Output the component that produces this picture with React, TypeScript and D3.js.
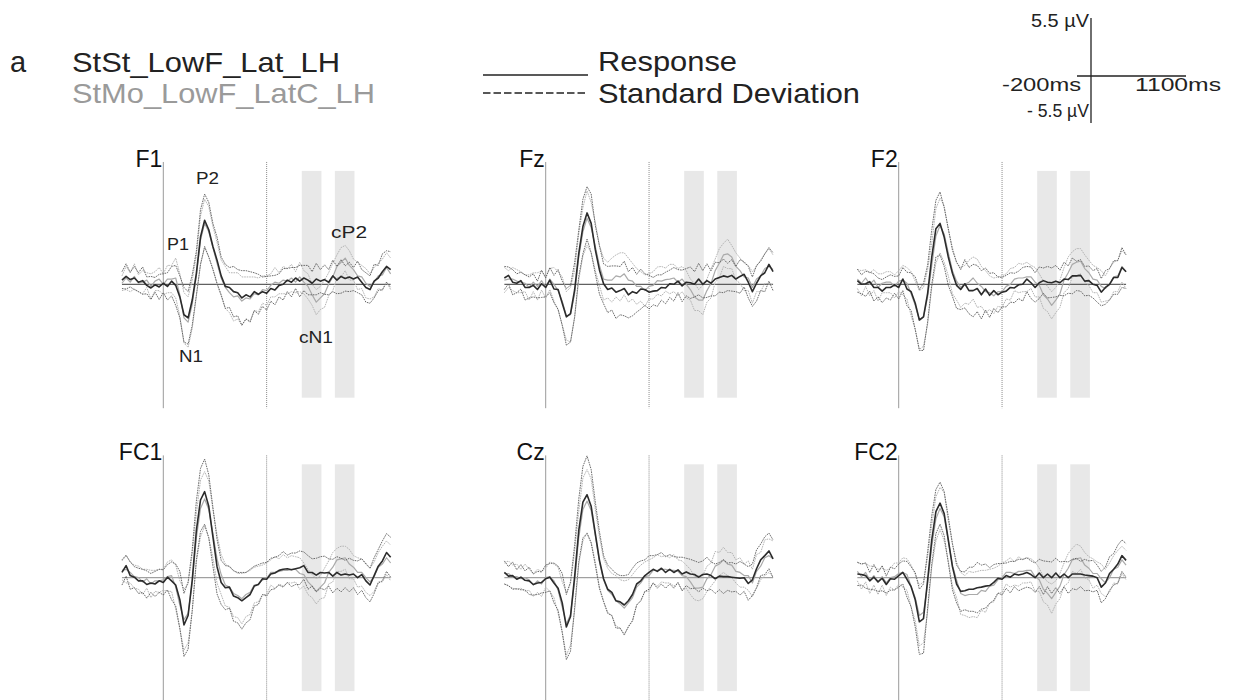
import React from "react";
import * as d3 from "d3";

// ---------- DATA ----------
const TIME_START = -200; // ms
const TIME_END = 1100; // ms
const TIME_STEP = 20; // ms
const times: number[] = d3.range(TIME_START, TIME_END + 1, TIME_STEP);

const changeMarker = 500; // dotted vertical (ms)
const windowCN1 = [670, 765]; // ms
const windowCP2 = [830, 925]; // ms

const conditionA = "StSt_LowF_Lat_LH";
const conditionB = "StMo_LowF_LatC_LH";
const legendLabels = ["Response", "Standard Deviation"];
const scaleLabels = ["5.5 µV", "-200ms", "1100ms", "- 5.5 µV"];
const peakLabels = ["P1", "P2", "N1", "cN1", "cP2"];
const electrodes = ["F1", "Fz", "F2", "FC1", "Cz", "FC2"];

// µV values, -200..1100 ms every 20 ms
const F1_StSt_mean = [0.4,0.75,0.45,0.6,0.2,0.35,-0.1,-0.35,-0.05,-0.25,0.1, -0.2,0.3,-0.1,-1.2, -2.9,-3.2,-1.5, 1.05,4.5,6.1,5.2,3.6, 2.3,0.8,-0.2,-0.3,-0.7, -0.8,-1.3,-1.0,-1.2,-0.7,-0.95,-0.7, -0.85,-0.4,-0.55,-0.1,0.0,0.4,0.2,0.6,0.3,0.6,0.4, 0.1,0.5,0.3,0.45,0.2,0.8,0.4,0.75,0.55,0.7, 0.5,0.7,0.2,-0.3,-0.5,0.3,0.6,1.2,1.7,1.4];
const F1_StSt_sd = [0.8,1.2,0.7,1.1,0.9,1.3,0.8,1.1,0.7,1.2,0.9, 1.3,1.4,1.9,2.0, 2.6,2.5,2.4, 2.1,2.6,2.5,2.6,2.2, 2.2,1.8,2.1,1.9,2.4, 2.2,2.6,2.3,2.4,1.8,1.9,1.4, 1.6,1.2,1.4,1.1,1.5,1.1,1.4,1.0,1.5,1.2,1.4, 1.1,1.5,1.1,1.4,1.2,1.5,1.3,1.6,1.2,1.4, 1.1,1.5,1.2,1.4,1.3,1.6,1.2,1.7,1.5,1.7];
const F1_StMo_mean = [0.1,0.6,0.2,0.75,0.1,0.2,0.4,-0.2,0.3,0.5,0.0, 0.5,0.5,0.6,-1.0, -3.2,-3.6,-1.9, 0.8,4.2,5.8,5.0,3.5, 2.0,0.6,-0.3,-0.8,-1.2, -1.1,-1.6,-1.3,-1.4,-0.9,-1.0,-0.5, -0.6,-0.1,0.2,0.1,0.4,0.3,0.6,0.2,0.7,0.2,-0.2, -1.0,-1.7,-1.3,-0.9,0.0,0.7,1.7,2.1,2.5,1.8, 1.4,0.8,0.7,0.1,-0.2,0.2,0.8,0.9,1.6,1.0];
const F1_StMo_sd = [0.7,1.1,0.9,1.2,0.8,1.1,0.7,1.2,0.9,1.1,1.0, 1.3,1.3,1.9,2.0, 2.4,2.4,2.3, 1.9,2.3,2.3,2.4,2.0, 2.0,1.7,2.0,1.9,2.3, 2.2,2.3,2.0,2.1,1.6,1.6,1.3, 1.4,1.1,1.4,1.0,1.3,1.2,1.3,1.0,1.4,1.1,1.2, 1.0,1.2,1.1,1.3,1.1,1.3,1.1,1.4,1.2,1.4, 1.0,1.3,1.1,1.4,1.2,1.4,1.2,1.5,1.4,1.5];

const Fz_StSt_mean = [0.6,0.85,0.2,0.1,0.35,-0.3,-0.3,-0.1,-0.5,0.05,-0.3, 0.4,-0.45,-0.5,-1.8, -3.1,-2.8,-0.54, 2.95,5.5,6.8,5.8,3.3, 1.37,0.05,-0.5,-0.35,-0.75, -0.6,-0.4,-1.0,-0.7,-0.85,-0.45,-0.5, -0.75,-0.65,-0.6,-0.3,-0.35,0.05,0.0,0.3,-0.15,0.2,0.15, 0.0,0.5,0.0,0.35,0.1,0.5,0.65,0.8,0.7,0.85, 0.5,0.75,0.95,0.2,-0.7,0.1,0.8,1.1,1.9,1.2];
const Fz_StSt_sd = [1.1,0.8,1.2,0.9,0.8,1.2,1.0,1.1,0.8,1.3,0.9, 1.2,1.3,1.9,2.1, 2.7,2.7,2.6, 2.2,2.6,2.5,2.8,2.3, 2.3,1.9,2.2,2.1,2.5, 2.3,2.6,2.2,2.3,1.8,1.9,1.5, 1.6,1.3,1.5,1.2,1.5,1.3,1.6,1.1,1.5,1.3,1.5, 1.2,1.5,1.3,1.6,1.2,1.6,1.4,1.6,1.3,1.5, 1.2,1.6,1.2,1.5,1.4,1.7,1.4,1.8,1.6,1.8];
const Fz_StMo_mean = [0.4,0.5,0.5,0.3,0.2,0.1,-0.3,0.2,-0.2,0.35,-0.3, 0.5,0.0,-0.6,-1.6, -3.0,-2.9,-0.9, 2.6,5.0,6.3,5.4,3.6, 1.8,0.5,0.4,0.4,0.8, 0.7,1.0,0.4,0.3,-0.2,-0.2,-0.6, -0.2,-0.1,0.35,0.3,0.45,0.5,0.6,0.2,0.5,0.0,-0.5, -1.2,-1.5,-1.5,-0.6,0.1,1.3,2.0,2.8,2.9,2.6, 1.7,1.3,0.7,0.6,-0.3,0.5,0.8,1.5,1.7,1.4];
const Fz_StMo_sd = [1.2,0.8,1.1,1.1,1.0,0.8,1.2,0.9,1.3,0.9,1.0, 1.0,1.6,1.8,2.3, 2.3,2.6,2.2, 2.2,2.3,2.6,2.4,2.3, 1.9,2.0,1.7,2.1,2.0, 2.3,2.0,2.1,1.7,1.7,1.4,1.5, 1.2,1.3,1.3,1.4,1.1,1.4,1.3,1.3,1.2,1.3,1.0, 1.3,1.0,1.4,1.1,1.4,1.1,1.4,1.1,1.4,1.1, 1.3,1.2,1.3,1.2,1.5,1.2,1.5,1.4,1.7,1.4];

const F2_StSt_mean = [0.35,0.0,0.05,0.25,-0.3,-0.3,-0.65,-0.3,-0.3,-0.05,-0.3, 0.5,-0.45,-0.7,-1.8, -3.4,-3.1,-0.86, 2.6,5.3,5.8,4.5,2.6, 1.05,-0.1,-0.5,0.05,-0.6, -0.6,-0.4,-1.0,-0.45,-1.05,-0.6,-1.0, -0.75,-0.65,-0.3,-0.35,-0.05,0.0,0.5,0.15,-0.3,0.15,0.35, 0.2,0.15,0.3,0.15,0.5,0.45,0.8,0.8,0.85,0.3, 0.35,0.0,-0.1,-0.75,-0.3,0.0,0.65,0.65,1.6,1.2];
const F2_StSt_sd = [1.1,0.9,1.2,0.9,1.3,0.9,1.1,1.0,1.2,0.8,1.1, 1.1,1.6,1.8,2.5, 2.9,3.2,2.7, 2.6,2.7,3.0,2.8,2.7, 2.2,2.2,1.9,2.3,2.2, 2.5,2.2,2.3,2.0,2.1,1.7,1.7, 1.4,1.5,1.4,1.4,1.3,1.6,1.2,1.5,1.4,1.5,1.2, 1.5,1.4,1.5,1.2,1.6,1.3,1.7,1.4,1.5,1.4, 1.4,1.3,1.6,1.3,1.6,1.5,1.6,1.6,1.9,1.6];
const F2_StMo_mean = [0.5,0.1,0.6,0.0,0.4,-0.3,0.1,0.2,0.2,-0.2,0.3, 0.4,0.1,-0.9,-2.0, -3.4,-3.1,-1.2, 1.8,4.6,5.6,4.8,3.0, 1.3,0.3,-0.3,0.0,0.2, 0.6,0.1,-0.2,-0.7,-0.8,-1.1,-0.7, -0.7,-0.2,0.0,0.5,0.6,0.6,0.7,0.7,0.2,-0.1,-1.0, -1.4,-2.0,-1.5,-0.9,0.4,1.1,1.9,2.1,2.2,1.5, 1.1,0.5,0.4,-0.2,-0.4,0.0,0.7,0.8,1.7,1.2];
const F2_StMo_sd = [0.9,1.2,0.8,1.1,1.0,1.3,0.9,1.0,1.0,1.1,1.0, 1.4,1.5,2.1,2.3, 2.8,2.8,2.6, 2.1,2.6,2.6,2.7,2.2, 2.2,1.8,1.9,1.8,2.1, 2.0,2.3,1.9,2.0,1.6,1.7,1.4, 1.5,1.2,1.5,1.1,1.4,1.3,1.4,1.1,1.4,1.1,1.3, 1.2,1.3,1.2,1.3,1.2,1.5,1.2,1.3,1.2,1.3, 1.2,1.3,1.2,1.5,1.2,1.5,1.4,1.5,1.5,1.6];

const FC1_StSt_mean = [0.5,1.15,0.2,0.05,-0.3,-0.3,-0.65,-0.5,-0.6,-0.3,-0.45, 0.05,-0.3,-0.7,-2.1, -4.5,-3.6,-0.22, 4.5,7.4,8.2,6.8,3.9, 1.05,-0.45,-0.95,-0.9,-1.75, -1.9,-2.2,-1.9,-1.6,-0.8,-0.65,-0.1, -0.15,0.35,0.45,0.7,0.8,0.85,0.75,0.85,0.95,1.15,0.5, 0.5,0.25,0.5,0.45,0.5,0.15,0.5,0.25,0.35,0.25, 0.35,0.0,0.3,-0.3,-0.7,0.2,1.1,1.6,2.4,1.95];
const FC1_StSt_sd = [1.2,1.0,1.3,1.0,1.2,1.1,1.3,0.9,1.2,1.1,1.2, 1.2,1.8,2.0,2.7, 3.0,3.2,2.9, 2.8,3.0,3.1,3.0,2.8, 2.6,2.1,2.1,2.0,2.4, 2.4,2.7,2.4,2.4,1.9,1.9,1.5, 1.6,1.5,1.5,1.4,1.7,1.3,1.6,1.5,1.6,1.3,1.6, 1.3,1.6,1.5,1.6,1.3,1.6,1.5,1.6,1.3,1.6, 1.3,1.6,1.5,1.6,1.6,1.7,1.6,1.9,1.8,1.9];
const FC1_StMo_mean = [0.7,0.8,0.5,0.1,0.0,-0.4,-0.1,-0.6,-0.3,-0.3,-0.2, 0.1,0.2,-0.9,-2.6, -4.0,-3.4,-0.5, 3.8,6.6,7.5,6.5,4.2, 1.8,0.3,-0.7,-0.9,-1.5, -1.7,-2.0,-1.6,-1.4,-0.7,-0.6,-0.2, -0.1,0.5,0.5,0.6,0.7,0.7,0.8,0.8,0.4,0.3,-0.4, -0.8,-1.3,-0.9,-0.5,0.5,1.0,1.7,1.8,1.9,1.3, 1.0,0.5,0.5,0.0,-0.4,0.1,1.0,1.3,1.9,1.4];
const FC1_StMo_sd = [0.9,1.3,1.0,1.1,1.1,1.2,0.9,1.3,1.0,1.1,1.0, 1.4,1.5,2.1,2.3, 2.9,2.8,2.7, 2.3,2.7,2.6,2.7,2.3, 2.3,1.9,2.0,1.9,2.2, 2.1,2.4,2.1,2.1,1.7,1.7,1.4, 1.5,1.2,1.5,1.2,1.5,1.2,1.3,1.2,1.5,1.1,1.2, 1.1,1.2,1.1,1.4,1.1,1.4,1.1,1.2,1.1,1.4, 1.1,1.4,1.3,1.4,1.3,1.4,1.4,1.7,1.6,1.7];

const Cz_StSt_mean = [0.5,0.15,0.2,-0.15,0.05,-0.25,-0.3,-0.65,-0.5,-0.45,-0.1, 0.05,-0.5,-1.0,-2.4, -4.7,-3.7,0.1, 4.5,7.2,7.9,6.8,4.2, 1.68,-0.1,-1.1,-1.4,-2.2, -2.3,-2.6,-2.2,-1.6,-0.6,-0.3,0.2, 0.5,0.8,0.6,0.9,0.5,0.8,0.5,0.75,0.35,0.55,0.35, 0.3,0.05,0.3,0.35,0.2,-0.1,0.15,0.1,0.1,0.05, 0.0,-0.05,0.0,-0.55,-0.2,0.85,1.7,2.1,2.55,1.8];
const Cz_StSt_sd = [1.1,0.9,1.3,0.9,1.2,0.9,1.3,1.0,1.1,1.0,1.3, 1.3,1.9,2.1,2.8, 3.1,3.3,3.0, 3.0,3.4,3.7,3.5,3.0, 2.7,2.2,2.3,2.2,2.6, 2.5,2.8,2.5,2.5,2.0,1.9,1.5, 1.6,1.3,1.6,1.5,1.5,1.4,1.5,1.2,1.6,1.3,1.4, 1.3,1.4,1.3,1.6,1.3,1.4,1.3,1.6,1.3,1.4, 1.3,1.6,1.3,1.6,1.5,1.8,1.5,1.8,1.7,1.8];
const Cz_StMo_mean = [0.4,0.4,0.1,0.1,-0.1,0.0,-0.2,-0.7,-0.3,-0.6,0.0, 0.1,-0.3,-1.2,-2.8, -4.4,-3.5,-0.3, 3.8,6.5,7.3,6.4,4.0, 1.5,-0.2,-1.2,-1.6,-2.2, -2.5,-2.9,-2.4,-1.9,-0.9,-0.5,0.1, 0.2,0.7,0.7,0.8,0.8,0.7,0.7,0.6,0.2,0.1,-0.4, -1.0,-1.0,-0.9,-0.1,0.3,1.1,1.3,1.7,1.3,1.2, 0.6,0.5,0.2,0.2,-0.5,0.6,1.1,1.9,2.1,1.8];
const Cz_StMo_sd = [1.0,1.2,1.1,1.2,0.9,1.3,1.0,1.1,1.1,1.2,0.9, 1.4,1.6,2.2,2.4, 3.0,2.9,2.8, 2.5,3.0,3.0,3.0,2.5, 2.4,2.0,2.1,2.0,2.4, 2.3,2.6,2.2,2.2,1.7,1.7,1.4, 1.5,1.2,1.5,1.2,1.3,1.2,1.5,1.1,1.4,1.1,1.2, 1.1,1.2,1.1,1.2,1.1,1.4,1.1,1.2,1.1,1.2, 1.1,1.4,1.1,1.4,1.3,1.6,1.3,1.7,1.6,1.7];

const FC2_StSt_mean = [0.35,0.3,0.2,-0.3,0.05,-0.4,-0.05,-0.65,-0.1,-0.15,0.2, 0.5,-0.15,-0.86,-2.1, -4.2,-3.9,-0.22, 3.6,6.3,7.1,6.1,3.6, 1.05,-0.6,-1.3,-1.25,-1.1, -1.1,-0.95,-0.9,-0.8,-0.75,-0.45,-0.05, -0.15,0.2,0.05,0.35,0.25,0.35,0.5,0.3,0.0,0.45,0.0, 0.35,0.0,0.45,0.0,0.35,0.0,0.35,0.35,0.35,0.25, 0.2,0.15,0.0,-0.9,-0.5,0.4,0.8,1.3,2.1,1.65];
const FC2_StSt_sd = [1.1,1.0,1.2,0.8,1.2,0.9,1.2,0.8,1.1,1.0,1.1, 1.1,1.7,1.9,2.6, 3.1,3.3,2.7, 2.3,2.1,2.0,2.1,2.2, 2.2,1.8,1.9,1.8,2.1, 2.1,2.4,2.1,2.1,1.7,1.7,1.4, 1.5,1.2,1.5,1.2,1.5,1.4,1.4,1.3,1.4,1.3,1.6, 1.2,1.5,1.4,1.5,1.2,1.5,1.4,1.5,1.2,1.5, 1.4,1.5,1.2,1.5,1.5,1.6,1.5,1.8,1.5,1.6];
const FC2_StMo_mean = [0.6,0.1,0.5,-0.2,0.2,-0.4,0.1,-0.5,0.0,0.1,0.4, 0.5,0.3,-0.8,-1.9, -3.6,-3.3,-0.6, 3.0,5.6,6.6,5.8,3.5, 1.2,-0.2,-1.5,-1.7,-1.6, -1.6,-1.6,-1.2,-1.3,-0.8,-0.7,-0.2, 0.0,0.5,0.5,0.4,0.6,0.6,0.7,0.7,0.1,-0.2,-1.1, -1.5,-2.0,-1.4,-0.8,0.3,0.9,1.7,1.8,1.9,1.2, 0.9,0.4,0.4,-0.1,-0.5,0.0,0.8,1.0,1.7,1.2];
const FC2_StMo_sd = [0.9,1.2,0.9,1.3,0.9,1.2,0.8,1.2,0.9,1.3,1.0, 1.4,1.5,2.0,2.2, 2.9,2.9,2.6, 2.0,2.1,2.0,2.3,1.9, 2.0,1.7,2.0,1.9,2.2, 2.1,2.2,1.9,2.0,1.6,1.6,1.3, 1.4,1.1,1.4,1.1,1.4,1.1,1.2,1.1,1.4,1.1,1.2, 1.1,1.4,1.1,1.2,1.1,1.4,1.1,1.4,1.1,1.2, 1.1,1.4,1.1,1.4,1.3,1.4,1.3,1.6,1.3,1.4];

const seriesStSt = [
  [F1_StSt_mean, F1_StSt_sd], [Fz_StSt_mean, Fz_StSt_sd], [F2_StSt_mean, F2_StSt_sd],
  [FC1_StSt_mean, FC1_StSt_sd], [Cz_StSt_mean, Cz_StSt_sd], [FC2_StSt_mean, FC2_StSt_sd],
];
const seriesStMo = [
  [F1_StMo_mean, F1_StMo_sd], [Fz_StMo_mean, Fz_StMo_sd], [F2_StMo_mean, F2_StMo_sd],
  [FC1_StMo_mean, FC1_StMo_sd], [Cz_StMo_mean, Cz_StMo_sd], [FC2_StMo_mean, FC2_StMo_sd],
];

// ---------- LAYOUT ----------
const FONT = "'Liberation Sans', Arial, Helvetica, sans-serif";
const colZero = [163.3, 545.7, 898.7]; // x pixel of t = 0
const rowBase = [284.3, 577.7]; // y pixel of 0 µV
const PX_PER_MS = 0.2067;
const PX_PER_UV = 10.5;

function Panel({ idx }: { idx: number }) {
  const col = idx % 3;
  const row = Math.floor(idx / 3);
  const x0 = colZero[col];
  const base = rowBase[row];
  const x = d3.scaleLinear().domain([0, 1000]).range([x0, x0 + 1000 * PX_PER_MS]);
  const y = d3.scaleLinear().domain([0, 10]).range([base, base - 10 * PX_PER_UV]);
  const line = d3
    .line<number>()
    .x((_, i) => x(times[i]))
    .y((d) => y(d));

  const [aMean, aSd] = seriesStSt[idx];
  const [bMean, bSd] = seriesStMo[idx];
  const up = (m: number[], s: number[]) => m.map((v, i) => v + s[i]);
  const dn = (m: number[], s: number[]) => m.map((v, i) => v - s[i]);

  const dot = "1.6 0.9";
  const lineColor = row === 0 ? "#3a3a3a" : "#8a8a8a";
  return (
    <g>
      {[windowCN1, windowCP2].map((w, k) => (
        <rect key={k} x={x(w[0])} width={x(w[1]) - x(w[0])} y={y(10.8)} height={y(-10.8) - y(10.8)} fill="#e8e8e8" />
      ))}
      <line x1={x(0)} x2={x(0)} y1={y(11.65)} y2={y(-11.8)} stroke="#9a9a9a" strokeWidth={1} />
      <line x1={x(changeMarker)} x2={x(changeMarker)} y1={y(11.65)} y2={y(-11.8)} stroke="#8a8a8a" strokeWidth={1} strokeDasharray="1 1" />
      <line x1={x(TIME_START)} x2={x(TIME_END)} y1={y(0)} y2={y(0)} stroke={lineColor} strokeWidth={1} />
      <g fill="none" strokeLinejoin="round">
        <path d={line(up(bMean, bSd)) || ""} stroke="#b4b4b4" strokeWidth={1} strokeDasharray={dot} />
        <path d={line(dn(bMean, bSd)) || ""} stroke="#b4b4b4" strokeWidth={1} strokeDasharray={dot} />
        <path d={line(bMean) || ""} stroke="#aaaaaa" strokeWidth={1.2} />
        <path d={line(up(aMean, aSd)) || ""} stroke="#5a5a5a" strokeWidth={0.9} strokeDasharray={dot} />
        <path d={line(dn(aMean, aSd)) || ""} stroke="#5a5a5a" strokeWidth={0.9} strokeDasharray={dot} />
        <path d={line(aMean) || ""} stroke="#2b2b2b" strokeWidth={1.6} />
      </g>
      <text x={x0 - 1} y={row === 0 ? 167 : 460} textAnchor="end" fontSize={23} fontFamily={FONT} fill="#111">
        {electrodes[idx]}
      </text>
    </g>
  );
}

export default function App() {
  const txt = (s: string, xx: number, yy: number, size: number, len: number, fill = "#222", anchor = "start") => (
    <text x={xx} y={yy} fontSize={size} fontFamily={FONT} fill={fill} textAnchor={anchor} textLength={len} lengthAdjust="spacingAndGlyphs">
      {s}
    </text>
  );
  return (
    <svg width={1234} height={700} style={{ position: "absolute", left: 0, top: 0, background: "#fff" }}>
      <rect width={1234} height={700} fill="#fff" />
      {/* header */}
      <text x={10} y={72} fontSize={29} fontFamily={FONT} fill="#222">a</text>
      {txt(conditionA, 72, 72, 28, 268)}
      {txt(conditionB, 72, 103, 28, 303, "#9a9a9a")}
      <line x1={483} x2={588} y1={75} y2={75} stroke="#222" strokeWidth={1.5} />
      {txt(legendLabels[0], 598, 71, 28, 139)}
      <line x1={483} x2={588} y1={93} y2={93} stroke="#222" strokeWidth={1.6} strokeDasharray="7.5 3" />
      {txt(legendLabels[1], 598, 103, 28, 262)}
      {/* scale bar */}
      <line x1={1091} x2={1091} y1={18} y2={123} stroke="#222" strokeWidth={1.3} />
      <line x1={1077} x2={1186} y1={76} y2={76} stroke="#222" strokeWidth={1.3} />
      {txt(scaleLabels[0], 1089, 27, 19, 58, "#222", "end")}
      {txt(scaleLabels[1], 1081, 91, 19, 79, "#222", "end")}
      {txt(scaleLabels[2], 1135, 91, 19, 86)}
      {txt(scaleLabels[3], 1089, 117, 19, 62, "#222", "end")}
      {/* panels */}
      {electrodes.map((_, i) => (
        <Panel key={i} idx={i} />
      ))}
      {/* peak annotations on F1 */}
      {txt(peakLabels[0], 167, 250, 17, 22)}
      {txt(peakLabels[1], 196, 184, 17, 23)}
      {txt(peakLabels[2], 179, 362, 17, 24)}
      {txt(peakLabels[3], 299, 343, 17, 34)}
      {txt(peakLabels[4], 331, 238, 17, 36)}
    </svg>
  );
}
